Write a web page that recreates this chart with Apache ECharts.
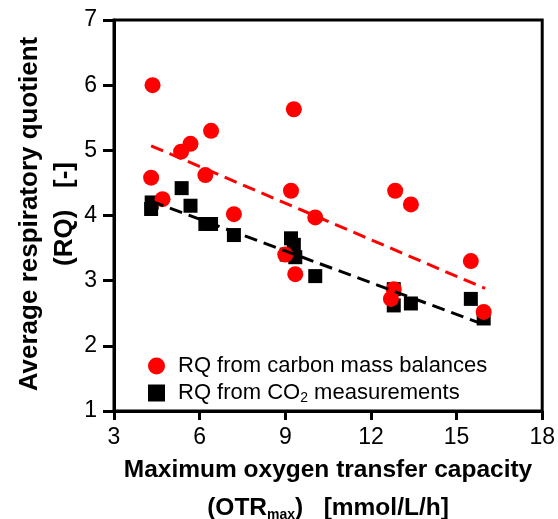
<!DOCTYPE html>
<html>
<head>
<meta charset="utf-8">
<script src="https://cdn.jsdelivr.net/npm/echarts@6/dist/echarts.min.js"></script>
<style>
	html, body { margin: 0; padding: 0; background: #fff; }
	#main { width: 558px; height: 519px; }
</style>
</head>
<body>
<div id="main"></div>
<script>
// RQ from carbon mass balances [OTRmax, RQ]
var carbonPts = [
	[4.35, 6.0], [9.3, 5.63], [6.4, 5.3], [5.68, 5.1], [5.35, 4.98],
	[4.3, 4.58], [6.2, 4.62], [9.2, 4.38], [4.7, 4.25], [10.05, 3.97],
	[7.2, 4.02], [9.0, 3.4], [9.35, 3.1], [12.85, 4.38], [13.4, 4.17],
	[15.5, 3.3], [12.8, 2.87], [12.7, 2.72], [15.95, 2.52]
];
// RQ from CO2 measurements
var co2Pts = [
	[5.37, 4.42], [4.32, 4.2], [4.3, 4.1], [5.68, 4.15], [6.2, 3.87],
	[6.4, 3.87], [7.2, 3.7], [9.2, 3.65], [9.3, 3.55], [9.05, 3.4],
	[9.35, 3.36], [10.05, 3.07], [12.8, 2.87], [12.8, 2.62], [13.4, 2.65],
	[15.5, 2.72], [15.95, 2.42]
];
// linear fits (end points)
var carbonFit = [[4.3, 5.07], [16.0, 2.88]];
var co2Fit = [[4.3, 4.22], [16.0, 2.32]];

var xTicks = [3, 18, 3]; // min, max, step
var yTicks = [1, 7, 1];

var font = '"Liberation Sans", Arial, sans-serif';
var myChart = echarts.init(document.getElementById('main'));

var option = {
	animation: false,
	backgroundColor: '#fff',
	grid: {
		left: 114,
		right: 14,
		top: 20,
		bottom: 108,
		show: true,
		borderColor: '#000',
		borderWidth: 3
	},
	legend: {
		orient: 'vertical',
		left: 143,
		top: 350,
		itemWidth: 17,
		itemHeight: 17,
		itemGap: 5,
		data: [
			{ name: 'RQ from carbon mass balances', icon: 'circle' },
			{ name: 'RQ from CO2 measurements', icon: 'rect' }
		],
		formatter: function(name) {
			if (name == 'RQ from CO2 measurements') {
				return '{a|RQ from CO}{s|2}{a| measurements}';
			};
			return '{a|' + name + '}';
		},
		textStyle: {
			fontFamily: font,
			color: '#000',
			padding: [0, 0, 0, 8],
			rich: {
				a: { fontSize: 22, fontFamily: font, color: '#000', lineHeight: 24 },
				s: { fontSize: 14, fontFamily: font, color: '#000', lineHeight: 12, verticalAlign: 'bottom', padding: [8, 0, 0, 0] }
			}
		}
	},
	xAxis: {
		type: 'value',
		min: xTicks[0],
		max: xTicks[1],
		interval: xTicks[2],
		splitLine: { show: false },
		axisLine: { onZero: false, lineStyle: { color: '#000', width: 3 } },
		axisTick: { length: 9, lineStyle: { color: '#000', width: 3 } },
		axisLabel: { color: '#000', fontSize: 23, fontFamily: font, margin: 15 }
	},
	yAxis: {
		type: 'value',
		min: yTicks[0],
		max: yTicks[1],
		interval: yTicks[2],
		splitLine: { show: false },
		axisLine: { onZero: false, lineStyle: { color: '#000', width: 3 } },
		axisTick: { length: 11, lineStyle: { color: '#000', width: 3 } },
		axisLabel: { color: '#000', fontSize: 23, fontFamily: font, margin: 17 }
	},
	graphic: [{
		type: 'text',
		x: 47,
		y: 214,
		rotation: Math.PI / 2,
		style: {
			text: 'Average respiratory quotient\n(RQ)   [-]',
			fontSize: 26,
			fontWeight: 'bold',
			fontFamily: font,
			fill: '#000',
			lineHeight: 35,
			align: 'center',
			verticalAlign: 'middle'
		}
	}, {
		type: 'text',
		x: 328,
		y: 470,
		style: {
			text: 'Maximum oxygen transfer capacity',
			fontSize: 24.5,
			fontWeight: 'bold',
			fontFamily: font,
			fill: '#000',
			align: 'center',
			verticalAlign: 'middle'
		}
	}, {
		type: 'text',
		x: 328,
		y: 508,
		style: {
			text: '{b|(OTR}{s|max}{b|)   [mmol/L/h]}',
			align: 'center',
			verticalAlign: 'middle',
			rich: {
				b: { fontSize: 24.5, fontWeight: 'bold', fontFamily: font, fill: '#000', lineHeight: 28 },
				s: { fontSize: 14, fontWeight: 'bold', fontFamily: font, fill: '#000', lineHeight: 12, verticalAlign: 'bottom', padding: [10, 0, 0, 0] }
			}
		}
	}],
	series: [{
		name: 'RQ from CO2 measurements',
		type: 'scatter',
		symbol: 'rect',
		symbolSize: 14,
		z: 2,
		itemStyle: { color: '#000', opacity: 1 },
		data: co2Pts
	}, {
		name: 'RQ from carbon mass balances',
		type: 'scatter',
		symbol: 'circle',
		symbolSize: 16,
		z: 3,
		itemStyle: { color: '#ff0000', opacity: 1 },
		data: carbonPts
	}, {
		name: 'fit carbon',
		type: 'line',
		symbol: 'none',
		z: 4,
		lineStyle: { color: '#ff0000', width: 3, type: [13, 7] },
		data: carbonFit
	}, {
		name: 'fit co2',
		type: 'line',
		symbol: 'none',
		z: 4,
		lineStyle: { color: '#000', width: 3, type: [13, 7] },
		data: co2Fit
	}]
};
myChart.setOption(option);
</script>
</body>
</html>
